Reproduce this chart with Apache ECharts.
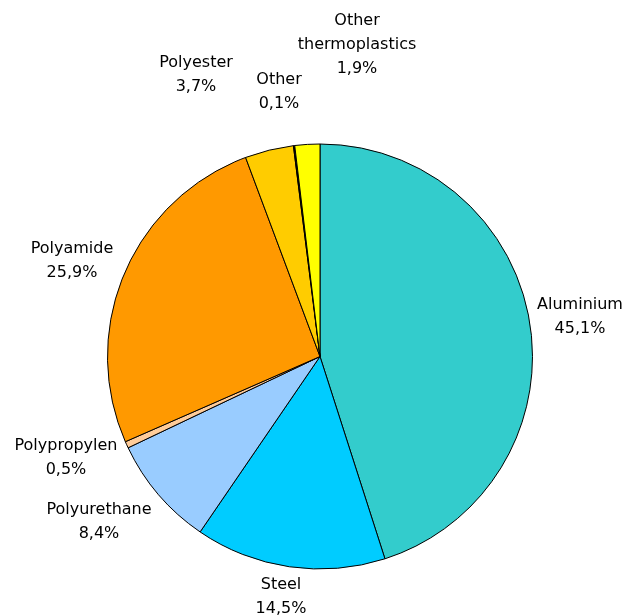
<!DOCTYPE html>
<html>
<head>
<meta charset="utf-8">
<script src="https://cdn.jsdelivr.net/npm/echarts@6/dist/echarts.min.js"></script>
<style>
html,body{margin:0;padding:0;background:#fff;}
#chart{width:625px;height:616px;}
</style>
</head>
<body>
<div id="chart"></div>
<script>
// Data
var categories = ['Aluminium', 'Steel', 'Polyurethane', 'Polypropylen', 'Polyamide', 'Polyester', 'Other', 'Other\nthermoplastics'];
var shares = [45.1, 14.5, 8.4, 0.5, 25.9, 3.7, 0.1, 1.9];
var sliceColors = ['#33CCCC', '#00CCFF', '#99CCFF', '#FFCC99', '#FF9900', '#FFCC00', '#000000', '#FFFF00'];

// Layout (label block centres, px)
var labelCenters = [
  [580, 317], [281, 597], [99, 522], [66, 458],
  [72, 261], [196, 75], [279, 92], [357, 45]
];

var chart = echarts.init(document.getElementById('chart'), null, {renderer: 'canvas'});
chart.setOption({
  backgroundColor: '#ffffff',
  animation: false,
  series: [{
    type: 'pie',
    center: [320, 356.5],
    radius: [0, 212.5],
    startAngle: 90,
    clockwise: true,
    minAngle: 0,
    avoidLabelOverlap: false,
    data: categories.map(function (c, i) {
      return {name: c, value: shares[i], itemStyle: {color: sliceColors[i]}};
    }),
    itemStyle: {borderColor: '#000000', borderWidth: 1},
    label: {
      show: true,
      position: 'outside',
      formatter: function (p) {
        return p.name + '\n' + String(p.value).replace('.', ',') + '%';
      },
      fontFamily: 'DejaVu Sans',
      fontSize: 16,
      lineHeight: 24,
      color: '#000000',
      align: 'center'
    },
    labelLine: {show: false},
    labelLayout: function (params) {
      var c = labelCenters[params.dataIndex];
      return {x: c[0], y: c[1], align: 'center', verticalAlign: 'middle'};
    },
    emphasis: {disabled: true}
  }]
});
</script>
</body>
</html>
